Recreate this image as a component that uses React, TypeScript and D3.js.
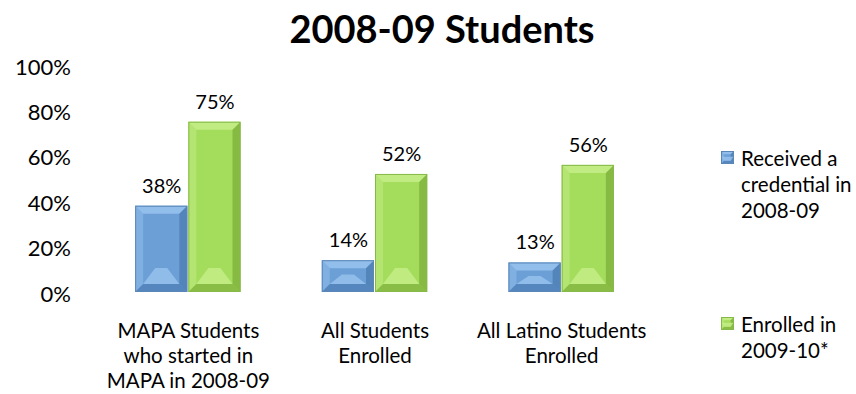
import React from "react";
import * as d3 from "d3";

const categories: string[][] = [
  ["MAPA Students", "who started in", "MAPA in 2008-09"],
  ["All Students", "Enrolled"],
  ["All Latino Students", "Enrolled"],
];
const credential = [38, 14, 13];
const enrolled = [75, 52, 56];
const yTicks = [0, 20, 40, 60, 80, 100];
const seriesNames = [["Received a", "credential in", "2008-09"], ["Enrolled in", "2009-10*"]];
const title = "2008-09 Students";

const W = 856, H = 394;
const FONT = "Lato, 'Open Sans', 'Liberation Sans', sans-serif";

const colors = [
  { base: "#6b9fd6", light: "#9cc6f0", dark: "#3f6fa6", edge: "#5a86b8" },
  { base: "#a4dc5c", light: "#c8f08e", dark: "#6f9e2e", edge: "#86b94a" },
];

function Bar({ x, y, w, h, c }: { x: number; y: number; w: number; h: number; c: typeof colors[0] }) {
  const b = Math.min(8, h / 2.5, w / 4);
  const x0 = x, x1 = x + w, y0 = y, y1 = y + h;
  const ix0 = x0 + b, ix1 = x1 - b, iy0 = y0 + b, iy1 = y1 - b;
  const midX = x + w / 2;
  const triH = Math.min(16, (h - 2 * b) * 0.6);
  return (
    <g>
      <rect x={x0} y={y0} width={w} height={h} fill={c.base} />
      <polygon points={`${x0},${y0} ${x1},${y0} ${ix1},${iy0} ${ix0},${iy0}`} fill={c.light} opacity={0.8} />
      <polygon points={`${x0},${y0} ${ix0},${iy0} ${ix0},${iy1} ${x0},${y1}`} fill={c.light} opacity={0.45} />
      <polygon points={`${x1},${y0} ${x1},${y1} ${ix1},${iy1} ${ix1},${iy0}`} fill={c.dark} opacity={0.55} />
      <polygon points={`${x0},${y1} ${ix0},${iy1} ${ix1},${iy1} ${x1},${y1}`} fill={c.dark} opacity={0.5} />
      {h > 2 * b + 4 && (
        <polygon
          points={`${ix0},${iy1} ${midX - 6},${iy1 - triH} ${midX + 6},${iy1 - triH} ${ix1},${iy1}`}
          fill={c.light}
          opacity={0.75}
        />
      )}
      <rect x={x0 + 0.5} y={y0 + 0.5} width={w - 1} height={h - 1} fill="none" stroke={c.edge} strokeWidth={1} />
    </g>
  );
}

export default function App() {
  const y = d3.scaleLinear().domain([0, 100]).range([292, 65]);
  const x = d3.scaleBand<number>().domain(d3.range(categories.length)).range([95, 655]).paddingInner(0.43).paddingOuter(0.215);
  const bw = x.bandwidth() / 2;
  return (
    <svg width={W} height={H} style={{ position: "absolute", left: 0, top: 0, background: "#fff" }} fontFamily={FONT}>
      <text x={442} y={43} textAnchor="middle" fontSize={38} fontWeight="bold" fill="#000">{title}</text>
      {yTicks.map((t) => (
        <text key={t} x={71} y={y(t) + 4} textAnchor="end" dominantBaseline="middle" fontSize={22} fill="#000">{t}%</text>
      ))}
      {categories.map((lines, i) => {
        const x0 = x(i)!;
        const vals = [credential[i], enrolled[i]];
        return (
          <g key={i}>
            {vals.map((v, j) => (
              <g key={j}>
                <Bar x={x0 + j * bw} y={y(v)} w={bw - 1} h={y(0) - y(v)} c={colors[j]} />
                <text x={x0 + j * bw + bw / 2} y={y(v) - 13} textAnchor="middle" fontSize={20} fill="#000">{v}%</text>
              </g>
            ))}
            {lines.map((l, k) => (
              <text key={k} x={x0 + x.bandwidth() / 2} y={338 + k * 25} textAnchor="middle" fontSize={20.5} fill="#000">{l}</text>
            ))}
          </g>
        );
      })}
      {seriesNames.map((lines, i) => {
        const ly = i === 0 ? 158 : 324;
        return (
          <g key={i}>
            <Bar x={721} y={ly - 7} w={13} h={13} c={colors[i]} />
            {lines.map((l, k) => (
              <text key={k} x={741} y={ly + 8 + k * 26} fontSize={20.5} fill="#000">{l}</text>
            ))}
          </g>
        );
      })}
    </svg>
  );
}
